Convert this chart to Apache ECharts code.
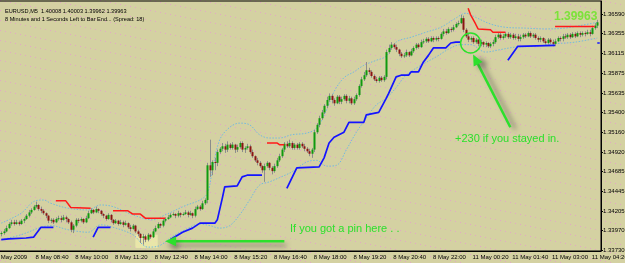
<!DOCTYPE html>
<html>
<head>
<meta charset="utf-8">
<script src="https://cdn.jsdelivr.net/npm/echarts@6/dist/echarts.min.js"></script>
<style>
  html, body { margin: 0; padding: 0; }
  #chart { width: 625px; height: 263px; }
</style>
</head>
<body>
<div id="chart"></div>
<script>
// x axis: one slot per M5 bar, labels every 16 bars
const tickLabels = ['8 May 2009', '8 May 08:40', '8 May 10:00', '8 May 11:20', '8 May 12:40', '8 May 14:00',
  '8 May 15:20', '8 May 16:40', '8 May 18:00', '8 May 19:20', '8 May 20:40', '8 May 22:00',
  '11 May 00:20', '11 May 01:40', '11 May 03:00', '11 May 04:20']
const yTicks = [1.33730, 1.33970, 1.34205, 1.34445, 1.34685, 1.34920, 1.35160, 1.35400,
  1.35635, 1.35875, 1.36115, 1.36355, 1.36590]
const header = ['EURUSD,M5  1.40008 1.40003 1.39962 1.39963',
  '8 Minutes and 1 Seconds Left to Bar End... (Spread: 18)']

// candles: [open, close, low, high]
const bars = [
  [1.3393,1.3394,1.3390,1.3396],[1.3394,1.3396,1.3392,1.3399],[1.3396,1.3400,1.3395,1.3403],[1.3400,1.3405,1.3399,1.3407],
  [1.3405,1.3407,1.3403,1.3410],[1.3407,1.3405,1.3403,1.3410],[1.3405,1.3407,1.3404,1.3410],[1.3407,1.3405,1.3403,1.3409],
  [1.3405,1.3409,1.3404,1.3411],[1.3409,1.3411,1.3406,1.3413],[1.3411,1.3415,1.3410,1.3417],[1.3415,1.3419,1.3413,1.3422],
  [1.3419,1.3422,1.3417,1.3424],[1.3422,1.3426,1.3421,1.3428],[1.3426,1.3428,1.3424,1.3432],[1.3428,1.3423,1.3421,1.3429],
  [1.3423,1.3421,1.3418,1.3426],[1.3421,1.3418,1.3416,1.3423],[1.3418,1.3415,1.3412,1.3419],[1.3415,1.3409,1.3406,1.3416],
  [1.3409,1.3410,1.3406,1.3412],[1.3410,1.3407,1.3405,1.3412],[1.3407,1.3411,1.3406,1.3413],[1.3411,1.3412,1.3409,1.3415],
  [1.3412,1.3410,1.3407,1.3415],[1.3410,1.3413,1.3409,1.3416],[1.3413,1.3411,1.3407,1.3415],[1.3411,1.3407,1.3405,1.3412],
  [1.3407,1.3398,1.3395,1.3409],[1.3398,1.3403,1.3394,1.3405],[1.3403,1.3410,1.3401,1.3412],[1.3410,1.3409,1.3406,1.3412],
  [1.3409,1.3411,1.3407,1.3413],[1.3411,1.3407,1.3405,1.3412],[1.3407,1.3412,1.3406,1.3415],[1.3412,1.3418,1.3411,1.3421],
  [1.3418,1.3422,1.3417,1.3424],[1.3422,1.3419,1.3417,1.3423],[1.3419,1.3423,1.3418,1.3426],[1.3423,1.3421,1.3418,1.3424],
  [1.3421,1.3417,1.3415,1.3422],[1.3417,1.3415,1.3412,1.3418],[1.3415,1.3411,1.3409,1.3416],[1.3411,1.3416,1.3410,1.3418],
  [1.3416,1.3410,1.3407,1.3417],[1.3410,1.3406,1.3404,1.3411],[1.3406,1.3409,1.3405,1.3411],[1.3409,1.3405,1.3403,1.3410],
  [1.3405,1.3407,1.3404,1.3410],[1.3407,1.3404,1.3401,1.3409],[1.3404,1.3406,1.3403,1.3409],[1.3406,1.3401,1.3399,1.3407],
  [1.3401,1.3399,1.3396,1.3404],[1.3399,1.3403,1.3398,1.3405],[1.3403,1.3396,1.3394,1.3404],[1.3396,1.3393,1.3390,1.3398],
  [1.3393,1.3388,1.3382,1.3394],[1.3388,1.3390,1.3380,1.3393],[1.3390,1.3386,1.3383,1.3392],[1.3386,1.3392,1.3384,1.3394],
  [1.3392,1.3389,1.3387,1.3393],[1.3389,1.3396,1.3388,1.3399],[1.3396,1.3400,1.3395,1.3403],[1.3400,1.3405,1.3399,1.3407],
  [1.3405,1.3403,1.3400,1.3406],[1.3403,1.3409,1.3401,1.3411],[1.3409,1.3411,1.3407,1.3413],[1.3411,1.3413,1.3410,1.3416],
  [1.3413,1.3416,1.3412,1.3418],[1.3416,1.3417,1.3415,1.3419],[1.3417,1.3415,1.3412,1.3418],[1.3415,1.3418,1.3413,1.3421],
  [1.3418,1.3416,1.3413,1.3419],[1.3416,1.3417,1.3415,1.3419],[1.3417,1.3419,1.3416,1.3422],[1.3419,1.3416,1.3413,1.3421],
  [1.3416,1.3418,1.3415,1.3421],[1.3418,1.3415,1.3412,1.3419],[1.3415,1.3423,1.3413,1.3426],[1.3423,1.3426,1.3422,1.3428],
  [1.3426,1.3423,1.3421,1.3428],[1.3423,1.3430,1.3422,1.3433],[1.3430,1.3434,1.3428,1.3436],[1.3434,1.3476,1.3430,1.3479],
  [1.3476,1.3470,1.3462,1.3507],[1.3470,1.3480,1.3464,1.3482],[1.3480,1.3479,1.3470,1.3485],[1.3479,1.3492,1.3475,1.3495],
  [1.3492,1.3496,1.3490,1.3498],[1.3496,1.3499,1.3493,1.3503],[1.3499,1.3495,1.3491,1.3502],[1.3495,1.3501,1.3492,1.3505],
  [1.3501,1.3497,1.3495,1.3503],[1.3497,1.3501,1.3495,1.3504],[1.3501,1.3495,1.3491,1.3502],[1.3495,1.3498,1.3492,1.3501],
  [1.3498,1.3503,1.3496,1.3505],[1.3503,1.3495,1.3492,1.3505],[1.3495,1.3497,1.3491,1.3499],[1.3497,1.3499,1.3495,1.3502],
  [1.3499,1.3492,1.3490,1.3501],[1.3492,1.3487,1.3485,1.3495],[1.3487,1.3482,1.3480,1.3488],[1.3482,1.3479,1.3476,1.3485],
  [1.3479,1.3475,1.3473,1.3481],[1.3475,1.3470,1.3467,1.3476],[1.3470,1.3475,1.3456,1.3478],[1.3475,1.3479,1.3473,1.3481],
  [1.3479,1.3473,1.3470,1.3480],[1.3473,1.3469,1.3465,1.3475],[1.3469,1.3475,1.3467,1.3478],[1.3475,1.3482,1.3473,1.3485],
  [1.3482,1.3487,1.3480,1.3490],[1.3487,1.3495,1.3485,1.3497],[1.3495,1.3502,1.3492,1.3504],[1.3502,1.3499,1.3497,1.3505],
  [1.3499,1.3503,1.3497,1.3507],[1.3503,1.3497,1.3495,1.3505],[1.3497,1.3501,1.3495,1.3503],[1.3501,1.3497,1.3495,1.3503],
  [1.3497,1.3502,1.3495,1.3504],[1.3502,1.3499,1.3497,1.3504],[1.3499,1.3496,1.3493,1.3502],[1.3496,1.3493,1.3491,1.3498],
  [1.3493,1.3490,1.3487,1.3496],[1.3490,1.3495,1.3485,1.3497],[1.3495,1.3516,1.3492,1.3519],[1.3516,1.3525,1.3514,1.3527],
  [1.3525,1.3533,1.3522,1.3536],[1.3533,1.3540,1.3531,1.3543],[1.3540,1.3548,1.3538,1.3550],[1.3548,1.3555,1.3545,1.3559],
  [1.3555,1.3560,1.3553,1.3563],[1.3560,1.3555,1.3551,1.3562],[1.3555,1.3551,1.3548,1.3557],[1.3551,1.3559,1.3550,1.3561],
  [1.3559,1.3553,1.3550,1.3561],[1.3553,1.3556,1.3550,1.3559],[1.3556,1.3560,1.3554,1.3562],[1.3560,1.3554,1.3551,1.3562],
  [1.3554,1.3557,1.3551,1.3560],[1.3557,1.3551,1.3549,1.3559],[1.3551,1.3556,1.3549,1.3559],[1.3556,1.3561,1.3554,1.3563],
  [1.3561,1.3572,1.3559,1.3574],[1.3572,1.3580,1.3570,1.3583],[1.3580,1.3585,1.3578,1.3589],[1.3585,1.3591,1.3583,1.3601],
  [1.3591,1.3589,1.3586,1.3594],[1.3589,1.3584,1.3582,1.3591],[1.3584,1.3580,1.3578,1.3586],[1.3580,1.3578,1.3576,1.3583],
  [1.3578,1.3582,1.3576,1.3584],[1.3582,1.3579,1.3577,1.3584],[1.3579,1.3583,1.3577,1.3585],[1.3583,1.3613,1.3580,1.3616],
  [1.3613,1.3618,1.3611,1.3622],[1.3618,1.3622,1.3616,1.3625],[1.3622,1.3619,1.3617,1.3624],[1.3619,1.3616,1.3613,1.3622],
  [1.3616,1.3611,1.3608,1.3617],[1.3611,1.3608,1.3606,1.3613],[1.3608,1.3609,1.3606,1.3612],[1.3609,1.3613,1.3607,1.3616],
  [1.3613,1.3609,1.3607,1.3614],[1.3609,1.3614,1.3608,1.3617],[1.3614,1.3618,1.3612,1.3620],[1.3618,1.3622,1.3616,1.3624],
  [1.3622,1.3619,1.3617,1.3624],[1.3619,1.3625,1.3618,1.3628],[1.3625,1.3626,1.3623,1.3629],[1.3626,1.3629,1.3624,1.3631],
  [1.3629,1.3626,1.3624,1.3631],[1.3626,1.3630,1.3625,1.3632],[1.3630,1.3628,1.3625,1.3632],[1.3628,1.3630,1.3626,1.3632],
  [1.3630,1.3629,1.3626,1.3632],[1.3629,1.3635,1.3628,1.3637],[1.3635,1.3638,1.3632,1.3641],[1.3638,1.3636,1.3634,1.3641],
  [1.3636,1.3641,1.3635,1.3643],[1.3641,1.3640,1.3637,1.3643],[1.3640,1.3643,1.3638,1.3646],[1.3643,1.3647,1.3642,1.3649],
  [1.3647,1.3648,1.3645,1.3651],[1.3648,1.3654,1.3647,1.3658],[1.3654,1.3640,1.3637,1.3657],[1.3640,1.3632,1.3630,1.3642],
  [1.3632,1.3628,1.3625,1.3635],[1.3628,1.3630,1.3625,1.3632],[1.3630,1.3625,1.3623,1.3632],[1.3625,1.3628,1.3623,1.3630],
  [1.3628,1.3623,1.3620,1.3629],[1.3623,1.3625,1.3620,1.3628],[1.3625,1.3622,1.3619,1.3626],[1.3622,1.3624,1.3619,1.3626],
  [1.3624,1.3620,1.3618,1.3625],[1.3620,1.3623,1.3618,1.3625],[1.3623,1.3625,1.3620,1.3628],[1.3625,1.3631,1.3623,1.3634],
  [1.3631,1.3634,1.3629,1.3636],[1.3634,1.3630,1.3628,1.3636],[1.3630,1.3632,1.3628,1.3635],[1.3632,1.3635,1.3630,1.3637],
  [1.3635,1.3631,1.3629,1.3637],[1.3631,1.3634,1.3629,1.3636],[1.3634,1.3630,1.3628,1.3636],[1.3630,1.3632,1.3628,1.3635],
  [1.3632,1.3629,1.3626,1.3635],[1.3629,1.3631,1.3626,1.3634],[1.3631,1.3634,1.3629,1.3636],[1.3634,1.3632,1.3630,1.3636],
  [1.3632,1.3636,1.3631,1.3638],[1.3636,1.3632,1.3630,1.3638],[1.3632,1.3634,1.3630,1.3636],[1.3634,1.3630,1.3628,1.3636],
  [1.3630,1.3628,1.3625,1.3632],[1.3628,1.3630,1.3625,1.3632],[1.3630,1.3626,1.3624,1.3631],[1.3626,1.3624,1.3622,1.3629],
  [1.3624,1.3628,1.3622,1.3630],[1.3628,1.3625,1.3623,1.3630],[1.3625,1.3623,1.3620,1.3628],[1.3623,1.3626,1.3620,1.3629],
  [1.3626,1.3630,1.3625,1.3632],[1.3630,1.3629,1.3626,1.3632],[1.3629,1.3632,1.3626,1.3635],[1.3632,1.3631,1.3629,1.3635],
  [1.3631,1.3634,1.3629,1.3636],[1.3634,1.3631,1.3629,1.3636],[1.3631,1.3635,1.3630,1.3637],[1.3635,1.3632,1.3630,1.3637],
  [1.3632,1.3636,1.3631,1.3638],[1.3636,1.3634,1.3631,1.3638],[1.3634,1.3636,1.3632,1.3638],[1.3636,1.3635,1.3632,1.3638],
  [1.3635,1.3637,1.3634,1.3640],[1.3637,1.3635,1.3632,1.3640],[1.3635,1.3642,1.3634,1.3645],[1.3642,1.3645,1.3640,1.3648],
  [1.3645,1.3649,1.3642,1.3652]
]
const firstSlot = 3 // bars start after 3 slots that sit left of the visible area
const slotCount = 245

// trailing stop lines, [slot, price]
const blueSegs = [
  [[3, 1.3386], [6, 1.3387], [13, 1.3388], [16, 1.3389], [19, 1.3401], [24, 1.3401]],
  [[40, 1.3389], [42, 1.3401], [47, 1.3401]],
  [[71, 1.3386], [76, 1.3395], [80, 1.3400], [83, 1.3406], [89, 1.3406], [90, 1.3410], [92, 1.3436], [93, 1.3450],
    [98, 1.3451], [100, 1.3462], [102, 1.3464], [108, 1.3464]],
  [[118, 1.3448], [122, 1.3473], [131, 1.3474], [133, 1.3485], [135, 1.3503], [137, 1.3510], [141, 1.3516],
    [143, 1.3528], [149, 1.3528], [150, 1.3537], [155, 1.3540], [158, 1.3557], [159, 1.3563], [162, 1.3583],
    [164, 1.3585], [167, 1.3585], [168, 1.3589], [171, 1.3589], [173, 1.3601], [175, 1.3609], [177, 1.3618],
    [182, 1.3618], [184, 1.3624], [186, 1.3625], [188, 1.3625]],
  [[207, 1.3603], [211, 1.3620], [226, 1.3621]],
  [[243, 1.3624], [244, 1.3624]]
]
const redSegs = [
  [[25, 1.3433], [29, 1.3433], [31, 1.3425], [39, 1.3424]],
  [[48, 1.3421], [54, 1.3421], [56, 1.3417], [59, 1.3417], [61, 1.3412], [69, 1.3412]],
  [[110, 1.3503], [114, 1.3503], [115, 1.3501], [117, 1.3501]],
  [[191, 1.3666], [192, 1.3658], [194, 1.3647], [195, 1.3641], [200, 1.3640], [201, 1.3637], [206, 1.3637]],
  [[226, 1.3644], [242, 1.3644]]
]
// envelope bands, read at sample slots
const upperBand = [[3, 1.3406], [11, 1.3418], [16, 1.3432], [20, 1.3434], [23, 1.3430], [30, 1.3424], [38, 1.3422],
  [43, 1.3428], [48, 1.3426], [56, 1.3416], [64, 1.3410], [69, 1.3416], [77, 1.3427], [83, 1.3434], [86, 1.3442],
  [88, 1.3470], [91, 1.3507], [95, 1.3522], [99, 1.3527], [103, 1.3525], [107, 1.3513], [111, 1.3509], [115, 1.3509],
  [120, 1.3513], [126, 1.3515], [130, 1.3521], [134, 1.3543], [137, 1.3565], [141, 1.3582], [145, 1.3589],
  [149, 1.3597], [154, 1.3603], [158, 1.3608], [162, 1.3625], [168, 1.3631], [174, 1.3637], [180, 1.3643],
  [186, 1.3654], [190, 1.3660], [194, 1.3655], [200, 1.3647], [206, 1.3643], [214, 1.3642], [222, 1.3641],
  [230, 1.3642], [236, 1.3645], [243, 1.3649]]
const lowerBand = [[3, 1.3386], [11, 1.3392], [19, 1.3401], [23, 1.3403], [30, 1.3398], [38, 1.3395], [43, 1.3404],
  [48, 1.3401], [56, 1.3392], [62, 1.3377], [66, 1.3378], [72, 1.3390], [77, 1.3398], [83, 1.3405], [87, 1.3403],
  [91, 1.3400], [95, 1.3403], [99, 1.3416], [103, 1.3434], [107, 1.3452], [111, 1.3456], [115, 1.3461], [120, 1.3468],
  [126, 1.3480], [130, 1.3482], [134, 1.3475], [138, 1.3476], [142, 1.3495], [146, 1.3516], [150, 1.3533],
  [154, 1.3549], [158, 1.3557], [162, 1.3570], [166, 1.3585], [172, 1.3597], [178, 1.3607], [184, 1.3618],
  [188, 1.3622], [192, 1.3622], [198, 1.3613], [204, 1.3616], [210, 1.3619], [218, 1.3620], [226, 1.3623],
  [234, 1.3625], [243, 1.3630]]

// annotation anchors, [slot, price]
const pinArrow = { from: [117, 1.3384], to: [69, 1.3384] }
const stayArrow = { from: [208, 1.3522], to: [193, 1.3610] }
const circleAt = [192, 1.3624]
const pinBox = [[57, 1.3392], [66, 1.3376]]

const small = "'Liberation Sans', Arial, sans-serif"
const green = '#2ce02c'

function dotTile () {
  const cv = document.createElement('canvas')
  cv.width = 50
  cv.height = 10
  const g = cv.getContext('2d')
  g.fillStyle = '#d4d1a2'
  g.fillRect(0, 0, 50, 10)
  g.fillStyle = '#e3a6c6'
  for (let k = 0; k < 10; k++) g.fillRect(5 * k, k, 1, 1)
  return cv
}

const everySixteen = (idx) => idx % 16 === 0
const slots = Array.from({ length: slotCount }, (_, i) => i)

function renderCandle (params, api) {
  const x = api.value(0)
  const o = api.coord([x, api.value(1)])
  const c = api.coord([x, api.value(2)])
  const lo = api.coord([x, api.value(3)])
  const hi = api.coord([x, api.value(4)])
  const cx = Math.round(o[0])
  const up = api.value(2) >= api.value(1)
  const top = Math.min(o[1], c[1])
  return {
    type: 'group',
    children: [
      { type: 'line', shape: { x1: cx + 0.5, y1: hi[1], x2: cx + 0.5, y2: lo[1] }, style: { stroke: '#8c8c8c', lineWidth: 1 } },
      { type: 'rect', shape: { x: cx - 0.5, y: top, width: 2, height: Math.max(1, Math.abs(o[1] - c[1])) },
        style: { fill: up ? '#0f9a0f' : '#8a1414' } }
    ]
  }
}

const chart = echarts.init(document.getElementById('chart'))

const lineSeries = (segs, color, width) => segs.map(s => ({
  type: 'line', data: s, symbol: 'none', silent: true, z: 5,
  lineStyle: { color: color, width: width }
}))
const bandSeries = (data) => ({
  type: 'line', data: data, symbol: 'none', smooth: 0.35, silent: true, z: 3,
  lineStyle: { color: '#74b9e0', width: 1, type: [1.5, 1.5] }
})

chart.setOption({
  animation: false,
  backgroundColor: { image: dotTile(), repeat: 'repeat' },
  title: {
    text: header.join('\n'),
    left: 0,
    top: 2,
    textStyle: { fontSize: 5.6, fontWeight: 'normal', color: '#000', lineHeight: 8, fontFamily: small }
  },
  grid: {
    left: -7.45, right: 24, top: 1, bottom: 12,
    show: true, borderColor: '#000', borderWidth: 1, backgroundColor: 'transparent',
    outerBoundsMode: 'none'
  },
  xAxis: {
    type: 'category',
    data: slots,
    boundaryGap: true,
    axisLine: { lineStyle: { color: '#000', width: 1 } },
    axisTick: { alignWithLabel: true, interval: everySixteen, length: 3, lineStyle: { color: '#000' } },
    axisLabel: {
      interval: everySixteen,
      showMaxLabel: true,
      showMinLabel: true,
      hideOverlap: false,
      formatter: (v, i) => tickLabels[i / 16],
      align: 'left', margin: 3, padding: [0, 0, 0, 2],
      fontSize: 6, color: '#000', fontFamily: small
    },
    splitLine: { show: false }
  },
  yAxis: {
    type: 'value',
    position: 'right',
    min: 1.33723,
    max: 1.36748,
    axisLine: { show: true, lineStyle: { color: '#000', width: 1 } },
    axisTick: { show: true, customValues: yTicks, length: 2, lineStyle: { color: '#000' } },
    axisLabel: {
      customValues: yTicks, formatter: v => v.toFixed(5), margin: 2,
      showMaxLabel: true, showMinLabel: true, hideOverlap: false,
      fontSize: 6, color: '#000', fontFamily: small
    },
    splitLine: { show: false }
  },
  series: [
    bandSeries(upperBand),
    bandSeries(lowerBand),
    {
      type: 'custom',
      data: bars.map((b, i) => [i + firstSlot, b[0], b[1], b[2], b[3]]),
      encode: { x: 0, y: [1, 2, 3, 4] },
      renderItem: renderCandle,
      silent: true,
      z: 4
    },
    ...lineSeries(blueSegs, '#1414ff', 1.7),
    ...lineSeries(redSegs, '#ff1a1a', 1.5)
  ]
})

// annotations drawn on top, anchored through the axes
const px = (p) => chart.convertToPixel({ gridIndex: 0 }, p)

function arrow (spec, sdx, sdy) {
  const a = px(spec.from)
  const b = px(spec.to)
  const dx = b[0] - a[0]
  const dy = b[1] - a[1]
  const len = Math.hypot(dx, dy)
  const ux = dx / len
  const uy = dy / len
  const L = 11
  const W = 5
  const base = [b[0] - ux * L, b[1] - uy * L]
  const shadow = { shadowBlur: 5, shadowColor: 'rgba(70,70,70,0.6)', shadowOffsetX: sdx, shadowOffsetY: sdy }
  return [
    { type: 'line', z: 50, shape: { x1: a[0], y1: a[1], x2: base[0] + ux * 2, y2: base[1] + uy * 2 },
      style: Object.assign({ stroke: green, lineWidth: 2.5 }, shadow) },
    { type: 'polygon', z: 51, shape: { points: [b, [base[0] - uy * W, base[1] + ux * W], [base[0] + uy * W, base[1] - ux * W]] },
      style: Object.assign({ fill: green }, shadow) }
  ]
}

const boxA = px(pinBox[0])
const boxB = px(pinBox[1])
const circ = px(circleAt)

chart.setOption({
  graphic: [
    { type: 'rect', z: 1, shape: { x: boxA[0], y: boxA[1], width: boxB[0] - boxA[0], height: boxB[1] - boxA[1] },
      style: { fill: 'rgba(250,248,175,0.55)' } },
    ...arrow(pinArrow, 2, 4),
    ...arrow(stayArrow, 5, 2),
    { type: 'circle', z: 52, shape: { cx: circ[0], cy: circ[1], r: 10 }, style: { fill: 'none', stroke: green, lineWidth: 1.5 } },
    { type: 'text', z: 52, left: 455, top: 133,
      style: { text: '+230 if you stayed in.', fill: green, fontSize: 11, fontFamily: 'Liberation Sans' } },
    { type: 'text', z: 52, left: 290, top: 223,
      style: { text: 'If you got a pin here . .', fill: green, fontSize: 11, fontFamily: 'Liberation Sans' } },
    { type: 'text', z: 52, left: 554, top: 11,
      style: { text: '1.39963', fill: '#7ce23a', fontSize: 12, fontWeight: 'bold', fontFamily: 'Liberation Sans' } }
  ]
})
</script>
</body>
</html>
